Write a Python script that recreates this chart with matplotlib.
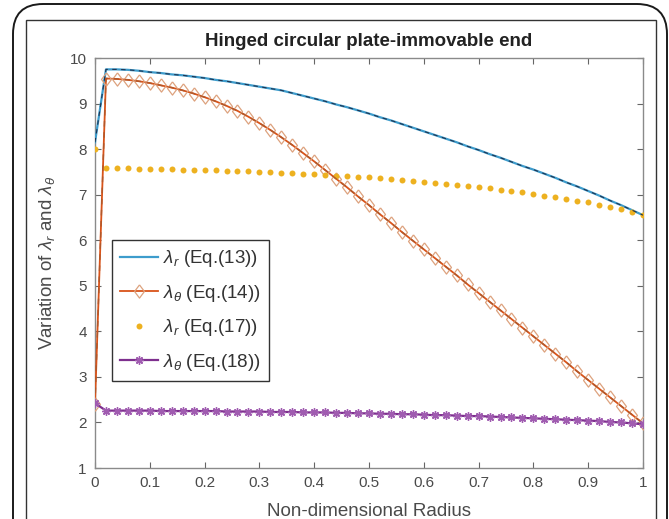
import matplotlib
matplotlib.use("Agg")
import matplotlib.pyplot as plt
from matplotlib.patches import FancyBboxPatch, Rectangle
import numpy as np

plt.rcParams['font.family'] = ['Liberation Sans', 'DejaVu Sans']
plt.rcParams['mathtext.fontset'] = 'custom'
plt.rcParams['mathtext.rm'] = 'Liberation Sans'
plt.rcParams['mathtext.it'] = 'Liberation Sans:italic'

radius = [round(0.02 * i, 2) for i in range(51)]

lam_r_eq13 = [8.15, 9.75, 9.75, 9.74, 9.72, 9.69, 9.67, 9.64, 9.62, 9.59, 9.56,
              9.52, 9.49, 9.45, 9.41, 9.37, 9.33, 9.29, 9.23, 9.17, 9.11,
              9.05, 8.98, 8.92, 8.85, 8.78, 8.70, 8.63, 8.55, 8.47, 8.39,
              8.31, 8.23, 8.15, 8.06, 7.98, 7.89, 7.81, 7.72, 7.63, 7.55,
              7.46, 7.37, 7.27, 7.18, 7.08, 6.98, 6.87, 6.77, 6.66, 6.55]

lam_t_eq14 = [2.40, 9.55, 9.54, 9.52, 9.49, 9.45, 9.40, 9.35, 9.29, 9.22, 9.14,
              9.05, 8.95, 8.84, 8.71, 8.57, 8.42, 8.26, 8.09, 7.91, 7.73,
              7.54, 7.35, 7.16, 6.96, 6.77, 6.57, 6.38, 6.18, 5.99, 5.80,
              5.61, 5.42, 5.23, 5.03, 4.84, 4.65, 4.46, 4.27, 4.08, 3.89,
              3.70, 3.51, 3.32, 3.12, 2.93, 2.74, 2.55, 2.36, 2.17, 1.98]

lam_r_eq17 = [8.00, 7.58, 7.58, 7.58, 7.57, 7.57, 7.56, 7.56, 7.55, 7.55, 7.54,
              7.54, 7.53, 7.52, 7.51, 7.50, 7.49, 7.48, 7.47, 7.46, 7.45,
              7.44, 7.42, 7.41, 7.39, 7.38, 7.36, 7.34, 7.32, 7.30, 7.28,
              7.26, 7.24, 7.21, 7.19, 7.16, 7.14, 7.11, 7.08, 7.05, 7.02,
              6.98, 6.95, 6.91, 6.87, 6.83, 6.78, 6.73, 6.68, 6.62, 6.55]

lam_t_eq18 = [2.42, 2.26, 2.26, 2.26, 2.26, 2.26, 2.25, 2.25, 2.25, 2.25, 2.25,
              2.25, 2.24, 2.24, 2.24, 2.24, 2.23, 2.23, 2.23, 2.22, 2.22,
              2.22, 2.21, 2.21, 2.20, 2.20, 2.19, 2.19, 2.18, 2.18, 2.17,
              2.16, 2.16, 2.15, 2.14, 2.14, 2.13, 2.12, 2.11, 2.10, 2.09,
              2.08, 2.07, 2.06, 2.05, 2.04, 2.03, 2.01, 2.00, 1.98, 1.96]

labels = [r'$\lambda_r$ (Eq.(13))', r'$\lambda_\theta$ (Eq.(14))',
          r'$\lambda_r$ (Eq.(17))', r'$\lambda_\theta$ (Eq.(18))']
x_ticks = [0, 0.1, 0.2, 0.3, 0.4, 0.5, 0.6, 0.7, 0.8, 0.9, 1]
x_tick_labels = ['0', '0.1', '0.2', '0.3', '0.4', '0.5', '0.6', '0.7', '0.8', '0.9', '1']
y_ticks = [1, 2, 3, 4, 5, 6, 7, 8, 9, 10]

W, H = 669, 519
fig = plt.figure(figsize=(W / 100, H / 100), dpi=100)

# decorative frames (rounded outer, rectangular inner)
outer = FancyBboxPatch((13 / W, -40 / H), (667 - 13) / W, (519 - 4 + 40) / H,
                       boxstyle="round,pad=0,rounding_size=0.045",
                       transform=fig.transFigure, fill=False,
                       edgecolor='#1a1a1a', linewidth=1.4, mutation_aspect=W / H)
fig.patches.append(outer)
inner = Rectangle((26 / W, -10 / H), (656 - 26) / W, (519 - 20 + 10) / H,
                  transform=fig.transFigure, fill=False,
                  edgecolor='#333333', linewidth=1.0)
fig.patches.append(inner)

ax = fig.add_axes([95 / W, 1 - 468 / H, (643 - 95) / W, (468 - 58) / H])

diamond = [(0, 1), (0.75, 0), (0, -1), (-0.75, 0), (0, 1)]

l1, = ax.plot(radius, lam_r_eq13, color='#3d9ccc', lw=1.6, label=labels[0], zorder=3)
ax.plot(radius, lam_r_eq13, color='#1f3350', lw=0.8, ls=(0, (4, 4)), zorder=4)
l2, = ax.plot(radius, lam_t_eq14, color='#D95319', lw=1.3, marker=diamond,
              markersize=9.5, markerfacecolor='none', markeredgecolor='#DDA27E',
              markeredgewidth=0.9, label=labels[1], zorder=3)
ax.plot(radius, lam_t_eq14, color='#b0582a', lw=1.0, ls=(0, (4, 4)), zorder=4)
l3, = ax.plot(radius, lam_r_eq17, ls='none', marker='o', markersize=4.3,
              color='#EDB120', markeredgewidth=0, label=labels[2], zorder=3)
l4, = ax.plot(radius, lam_t_eq18, color='#7E2F8E', lw=1.6, marker=(8, 2, 0),
              markersize=6, markeredgecolor='#a05cb0', markeredgewidth=1.0,
              label=labels[3], zorder=5)

ax.set_xlim(0, 1)
ax.set_ylim(1, 10)
ax.set_xticks(x_ticks)
ax.set_xticklabels(x_tick_labels)
ax.set_yticks(y_ticks)

grey = '#8a8a8a'
for s in ax.spines.values():
    s.set_color(grey)
    s.set_linewidth(1.0)
ax.tick_params(direction='in', length=4, width=0.8, color='#666666',
               top=True, right=True, labelsize=11, labelcolor='#4a4a4a', pad=6)

ax.set_title('Hinged circular plate-immovable end', fontsize=13.5,
             fontweight='bold', color='#222222', pad=9)
ax.set_xlabel('Non-dimensional Radius', fontsize=13.5, color='#4a4a4a', labelpad=9)
ax.set_ylabel(r'Variation of $\lambda_r$ and $\lambda_\theta$', fontsize=13.5,
              color='#4a4a4a', labelpad=9)

leg = ax.legend(handles=[l1, l2, l3, l4], loc='upper left',
                bbox_to_anchor=(0.031, 0.556), fontsize=13.5, frameon=True,
                fancybox=False, edgecolor='#333333', framealpha=1,
                handlelength=2.0, handletextpad=0.25, labelspacing=0.72,
                borderpad=0.45, borderaxespad=0)
leg.get_frame().set_linewidth(1.0)
for t in leg.get_texts():
    t.set_color('#333333')

fig.savefig('out.png', dpi=100)
